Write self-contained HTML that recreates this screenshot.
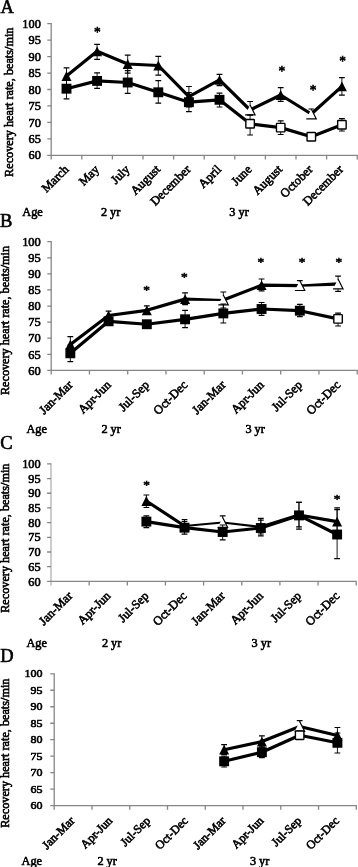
<!DOCTYPE html>
<html><head><meta charset="utf-8"><title>Recovery heart rate</title>
<style>html,body{margin:0;padding:0;background:#fff}svg{display:block}text{font-family:"Liberation Serif",serif;fill:#000;stroke:#000;stroke-width:.6px}</style>
</head><body>
<svg width="358" height="867" viewBox="0 0 358 867">
<rect width="358" height="867" fill="#fff"/>
<g>
<text x="0.5" y="12.7" font-size="18.5" stroke-width=".2">A</text>
<path d="M51.2 23.05V159.5" fill="none" stroke="#868686" stroke-width="1.3"/>
<path d="M47.3 155.3H357.85M47.3 23.7H51.2M47.3 40.15H51.2M47.3 56.6H51.2M47.3 73.05H51.2M47.3 89.5H51.2M47.3 105.95H51.2M47.3 122.4H51.2M47.3 138.85H51.2M81.8 155.3v4.2M112.4 155.3v4.2M143 155.3v4.2M173.6 155.3v4.2M204.2 155.3v4.2M234.8 155.3v4.2M265.4 155.3v4.2M296 155.3v4.2M326.6 155.3v4.2M357.2 155.3v4.2" fill="none" stroke="#868686" stroke-width="1.3"/>
<text x="40.8" y="27.86" font-size="12.3" text-anchor="end">100</text>
<text x="40.8" y="44.31" font-size="12.3" text-anchor="end">95</text>
<text x="40.8" y="60.76" font-size="12.3" text-anchor="end">90</text>
<text x="40.8" y="77.21" font-size="12.3" text-anchor="end">85</text>
<text x="40.8" y="93.66" font-size="12.3" text-anchor="end">80</text>
<text x="40.8" y="110.11" font-size="12.3" text-anchor="end">75</text>
<text x="40.8" y="126.56" font-size="12.3" text-anchor="end">70</text>
<text x="40.8" y="143.01" font-size="12.3" text-anchor="end">65</text>
<text x="40.8" y="159.46" font-size="12.3" text-anchor="end">60</text>
<text transform="translate(12.6 176.9) rotate(-90)" font-size="12.45" textLength="149.3" lengthAdjust="spacingAndGlyphs">Recovery heart rate, beats/min</text>
<text transform="translate(69.4 170.1) rotate(-45)" font-size="12.45" text-anchor="end">March</text>
<text transform="translate(99.9 170.1) rotate(-45)" font-size="12.45" text-anchor="end">May</text>
<text transform="translate(130.4 170.1) rotate(-45)" font-size="12.45" text-anchor="end">July</text>
<text transform="translate(160.9 170.1) rotate(-45)" font-size="12.45" text-anchor="end">August</text>
<text transform="translate(191.4 170.1) rotate(-45)" font-size="12.45" text-anchor="end">December</text>
<text transform="translate(221.9 170.1) rotate(-45)" font-size="12.45" text-anchor="end">April</text>
<text transform="translate(252.4 170.1) rotate(-45)" font-size="12.45" text-anchor="end">June</text>
<text transform="translate(282.9 170.1) rotate(-45)" font-size="12.45" text-anchor="end">August</text>
<text transform="translate(313.4 170.1) rotate(-45)" font-size="12.45" text-anchor="end">October</text>
<text transform="translate(343.9 170.1) rotate(-45)" font-size="12.45" text-anchor="end">December</text>
<text x="22.3" y="215.8" font-size="12.3">Age</text>
<text x="100.9" y="215.8" font-size="12.3">2 yr</text>
<text x="229.3" y="215.8" font-size="12.3">3 yr</text>
<path d="M66.5 67.8V85M97.1 44.3V59.4M127.7 55.1V73.2M158.3 56.3V75.2M188.9 86.5V107M219.5 74.3V85.7M250.1 101.5V114.9M280.7 87.6V101.3M311.3 109V118.3M341.9 77.7V95.2" fill="none" stroke="#000" stroke-width="0.9"/>
<path d="M63.6 67.8h5.8M63.6 85h5.8M94.2 44.3h5.8M94.2 59.4h5.8M124.8 55.1h5.8M124.8 73.2h5.8M155.4 56.3h5.8M155.4 75.2h5.8M186 86.5h5.8M186 107h5.8M216.6 74.3h5.8M216.6 85.7h5.8M247.2 101.5h5.8M247.2 114.9h5.8M277.8 87.6h5.8M277.8 101.3h5.8M308.4 109h5.8M308.4 118.3h5.8M339 77.7h5.8M339 95.2h5.8" fill="none" stroke="#000" stroke-width="1.2"/>
<polyline points="66.5,76 97.1,51.3 127.7,64 158.3,65.5 188.9,96.7 219.5,79.9 250.1,110 280.7,95 311.3,114 341.9,86.4" fill="none" stroke="#000" stroke-width="3.2" stroke-linejoin="round" stroke-linecap="round"/>
<polygon points="66.5,71.1 71.5,80.9 61.5,80.9" fill="#000"/>
<polygon points="97.1,46.4 102.1,56.2 92.1,56.2" fill="#000"/>
<polygon points="127.7,59.1 132.7,68.9 122.7,68.9" fill="#000"/>
<polygon points="158.3,60.6 163.3,70.4 153.3,70.4" fill="#000"/>
<polygon points="188.9,91.8 193.9,101.6 183.9,101.6" fill="#000"/>
<polygon points="219.5,75 224.5,84.8 214.5,84.8" fill="#000"/>
<polygon points="250.1,105.1 255.1,114.9 245.1,114.9" fill="#fff"/>
<path d="M250.1 105.1L255.1 114.9H245.1" fill="none" stroke="#000" stroke-width="1.15"/>
<polygon points="280.7,90.1 285.7,99.9 275.7,99.9" fill="#000"/>
<polygon points="311.3,109.1 316.3,118.9 306.3,118.9" fill="#fff"/>
<path d="M311.3 109.1L316.3 118.9H306.3" fill="none" stroke="#000" stroke-width="1.15"/>
<polygon points="341.9,81.5 346.9,91.3 336.9,91.3" fill="#000"/>
<path d="M66.5 79V98.8M97.1 72.8V88.4M127.7 70.7V93.4M158.3 80.6V103.2M188.9 92.7V111.7M219.5 93.2V107M250.1 114.9V135M280.7 120.8V134.5M311.3 134V139.6M341.9 118.7V131" fill="none" stroke="#000" stroke-width="0.9"/>
<path d="M63.6 79h5.8M63.6 98.8h5.8M94.2 72.8h5.8M94.2 88.4h5.8M124.8 70.7h5.8M124.8 93.4h5.8M155.4 80.6h5.8M155.4 103.2h5.8M186 92.7h5.8M186 111.7h5.8M216.6 93.2h5.8M216.6 107h5.8M247.2 114.9h5.8M247.2 135h5.8M277.8 120.8h5.8M277.8 134.5h5.8M308.4 134h5.8M308.4 139.6h5.8M339 118.7h5.8M339 131h5.8" fill="none" stroke="#000" stroke-width="1.2"/>
<polyline points="66.5,88.7 97.1,80.9 127.7,82.5 158.3,92.3 188.9,102.2 219.5,99.8 250.1,123.8 280.7,127.65 311.3,136.8 341.9,124.75" fill="none" stroke="#000" stroke-width="3.2" stroke-linejoin="round" stroke-linecap="round"/>
<rect x="61.55" y="83.75" width="9.9" height="9.9" fill="#000"/>
<rect x="92.15" y="75.95" width="9.9" height="9.9" fill="#000"/>
<rect x="122.75" y="77.55" width="9.9" height="9.9" fill="#000"/>
<rect x="153.35" y="87.35" width="9.9" height="9.9" fill="#000"/>
<rect x="183.95" y="97.25" width="9.9" height="9.9" fill="#000"/>
<rect x="214.55" y="94.85" width="9.9" height="9.9" fill="#000"/>
<rect x="245.85" y="119.55" width="8.5" height="8.5" rx=".6" fill="#fff" stroke="#000" stroke-width="1.4"/>
<rect x="276.45" y="123.4" width="8.5" height="8.5" rx=".6" fill="#fff" stroke="#000" stroke-width="1.4"/>
<rect x="307.05" y="132.55" width="8.5" height="8.5" rx=".6" fill="#fff" stroke="#000" stroke-width="1.4"/>
<rect x="337.65" y="120.5" width="8.5" height="8.5" rx=".6" fill="#fff" stroke="#000" stroke-width="1.4"/>
<text transform="translate(97.3 31.4) scale(1 1.05)" x="0" y="5.67" font-size="13.4" text-anchor="middle" stroke-width=".45">*</text>
<text transform="translate(281.8 69.7) scale(1 1.05)" x="0" y="5.67" font-size="13.4" text-anchor="middle" stroke-width=".45">*</text>
<text transform="translate(313.1 88.9) scale(1 1.05)" x="0" y="5.67" font-size="13.4" text-anchor="middle" stroke-width=".45">*</text>
<text transform="translate(342.5 59.8) scale(1 1.05)" x="0" y="5.67" font-size="13.4" text-anchor="middle" stroke-width=".45">*</text>
</g>
<g>
<text x="0" y="227" font-size="18.5" stroke-width=".2">B</text>
<path d="M51.2 241.05V374.6" fill="none" stroke="#868686" stroke-width="1.3"/>
<path d="M47.3 370.4H357.85M47.3 241.7H51.2M47.3 257.79H51.2M47.3 273.88H51.2M47.3 289.96H51.2M47.3 306.05H51.2M47.3 322.14H51.2M47.3 338.22H51.2M47.3 354.31H51.2M89.45 370.4v4.2M127.7 370.4v4.2M165.95 370.4v4.2M204.2 370.4v4.2M242.45 370.4v4.2M280.7 370.4v4.2M318.95 370.4v4.2M357.2 370.4v4.2" fill="none" stroke="#868686" stroke-width="1.3"/>
<text x="40.8" y="245.91" font-size="12.45" text-anchor="end">100</text>
<text x="40.8" y="262" font-size="12.45" text-anchor="end">95</text>
<text x="40.8" y="278.08" font-size="12.45" text-anchor="end">90</text>
<text x="40.8" y="294.17" font-size="12.45" text-anchor="end">85</text>
<text x="40.8" y="310.26" font-size="12.45" text-anchor="end">80</text>
<text x="40.8" y="326.35" font-size="12.45" text-anchor="end">75</text>
<text x="40.8" y="342.43" font-size="12.45" text-anchor="end">70</text>
<text x="40.8" y="358.52" font-size="12.45" text-anchor="end">65</text>
<text x="40.8" y="374.61" font-size="12.45" text-anchor="end">60</text>
<text transform="translate(8.8 395.1) rotate(-90)" font-size="12.45" textLength="149.2" lengthAdjust="spacingAndGlyphs">Recovery heart rate, beats/min</text>
<text transform="translate(73.33 385.6) rotate(-45)" font-size="12.45" text-anchor="end">Jan-Mar</text>
<text transform="translate(111.58 385.6) rotate(-45)" font-size="12.45" text-anchor="end">Apr-Jun</text>
<text transform="translate(149.82 385.6) rotate(-45)" font-size="12.45" text-anchor="end">Jul-Sep</text>
<text transform="translate(188.07 385.6) rotate(-45)" font-size="12.45" text-anchor="end">Oct-Dec</text>
<text transform="translate(226.32 385.6) rotate(-45)" font-size="12.45" text-anchor="end">Jan-Mar</text>
<text transform="translate(264.57 385.6) rotate(-45)" font-size="12.45" text-anchor="end">Apr-Jun</text>
<text transform="translate(302.82 385.6) rotate(-45)" font-size="12.45" text-anchor="end">Jul-Sep</text>
<text transform="translate(341.07 385.6) rotate(-45)" font-size="12.45" text-anchor="end">Oct-Dec</text>
<text x="26.4" y="432.9" font-size="12.3">Age</text>
<text x="101.4" y="432.9" font-size="12.3">2 yr</text>
<text x="245.4" y="432.9" font-size="12.3">3 yr</text>
<path d="M70.33 336.6V354M108.58 311.1V319.5M146.82 305.8V314.5M185.07 292.8V304.7M223.32 292V308M261.57 279V290.9M299.82 280.6V290.4M338.07 276.1V291.3" fill="none" stroke="#000" stroke-width="0.9"/>
<path d="M67.42 336.6h5.8M67.42 354h5.8M105.67 311.1h5.8M105.67 319.5h5.8M143.92 305.8h5.8M143.92 314.5h5.8M182.17 292.8h5.8M182.17 304.7h5.8M220.42 292h5.8M220.42 308h5.8M258.68 279h5.8M258.68 290.9h5.8M296.93 280.6h5.8M296.93 290.4h5.8M335.18 276.1h5.8M335.18 291.3h5.8" fill="none" stroke="#000" stroke-width="1.2"/>
<polygon points="185.04,300.75 223.3,301.1 223.35,298.9 185.11,297.45" fill="#000"/>
<polyline points="70.33,344.6 108.58,315.5 146.82,310.3 185.07,299.1" fill="none" stroke="#000" stroke-width="3.2" stroke-linejoin="round" stroke-linecap="round"/>
<polygon points="299.87,286.7 338.15,285.8 338,282.2 299.78,284.5" fill="#000"/>
<polyline points="223.32,300 261.57,285.2 299.82,285.6" fill="none" stroke="#000" stroke-width="3.2" stroke-linejoin="round" stroke-linecap="round"/>
<polygon points="70.33,339.7 75.33,349.5 65.33,349.5" fill="#000"/>
<polygon points="108.58,310.6 113.58,320.4 103.58,320.4" fill="#000"/>
<polygon points="146.82,305.4 151.82,315.2 141.82,315.2" fill="#000"/>
<polygon points="185.07,294.2 190.07,304 180.07,304" fill="#000"/>
<polygon points="223.32,295.1 228.32,304.9 218.32,304.9" fill="#fff"/>
<path d="M223.32 295.1L228.32 304.9H218.32" fill="none" stroke="#000" stroke-width="1.15"/>
<polygon points="261.57,280.3 266.57,290.1 256.57,290.1" fill="#000"/>
<polygon points="299.82,280.7 304.82,290.5 294.82,290.5" fill="#fff"/>
<path d="M299.82 280.7L304.82 290.5H294.82" fill="none" stroke="#000" stroke-width="1.15"/>
<polygon points="338.07,279.1 343.07,288.9 333.07,288.9" fill="#fff"/>
<path d="M338.07 279.1L343.07 288.9H333.07" fill="none" stroke="#000" stroke-width="1.15"/>
<path d="M70.33 345V361.6M108.58 318V325M146.82 321V327.5M185.07 310.3V327.7M223.32 304V323M261.57 302.5V315.3M299.82 304.3V316.6M338.07 313.2V326" fill="none" stroke="#000" stroke-width="0.9"/>
<path d="M67.42 345h5.8M67.42 361.6h5.8M105.67 318h5.8M105.67 325h5.8M143.92 321h5.8M143.92 327.5h5.8M182.17 310.3h5.8M182.17 327.7h5.8M220.42 304h5.8M220.42 323h5.8M258.68 302.5h5.8M258.68 315.3h5.8M296.93 304.3h5.8M296.93 316.6h5.8M335.18 313.2h5.8M335.18 326h5.8" fill="none" stroke="#000" stroke-width="1.2"/>
<polyline points="70.33,353.3 108.58,321.3 146.82,324.25 185.07,319.3 223.32,313.4 261.57,309 299.82,310.7 338.07,318.9" fill="none" stroke="#000" stroke-width="3.2" stroke-linejoin="round" stroke-linecap="round"/>
<rect x="65.38" y="348.35" width="9.9" height="9.9" fill="#000"/>
<rect x="103.62" y="316.35" width="9.9" height="9.9" fill="#000"/>
<rect x="141.88" y="319.3" width="9.9" height="9.9" fill="#000"/>
<rect x="180.12" y="314.35" width="9.9" height="9.9" fill="#000"/>
<rect x="218.38" y="308.45" width="9.9" height="9.9" fill="#000"/>
<rect x="256.62" y="304.05" width="9.9" height="9.9" fill="#000"/>
<rect x="294.88" y="305.75" width="9.9" height="9.9" fill="#000"/>
<rect x="333.82" y="314.65" width="8.5" height="8.5" rx=".6" fill="#fff" stroke="#000" stroke-width="1.4"/>
<text transform="translate(146.5 288.8) scale(1 0.99)" x="0" y="5.67" font-size="13.4" text-anchor="middle" stroke-width=".45">*</text>
<text transform="translate(184.3 274.9) scale(1 0.99)" x="0" y="5.67" font-size="13.4" text-anchor="middle" stroke-width=".45">*</text>
<text transform="translate(260.9 260.4) scale(1 0.99)" x="0" y="5.67" font-size="13.4" text-anchor="middle" stroke-width=".45">*</text>
<text transform="translate(302 260.4) scale(1 0.99)" x="0" y="5.67" font-size="13.4" text-anchor="middle" stroke-width=".45">*</text>
<text transform="translate(338.8 260.4) scale(1 0.99)" x="0" y="5.67" font-size="13.4" text-anchor="middle" stroke-width=".45">*</text>
</g>
<g>
<text x="0.3" y="448.6" font-size="18.5" stroke-width=".2">C</text>
<path d="M51 463.25V585.6" fill="none" stroke="#b0b0b0" stroke-width="1.3"/>
<path d="M47.1 581.4H356.85M47.1 463.9H51M47.1 478.59H51M47.1 493.27H51M47.1 507.96H51M47.1 522.65H51M47.1 537.34H51M47.1 552.02H51M47.1 566.71H51M89.15 581.4v4.2M127.3 581.4v4.2M165.45 581.4v4.2M203.6 581.4v4.2M241.75 581.4v4.2M279.9 581.4v4.2M318.05 581.4v4.2M356.2 581.4v4.2" fill="none" stroke="#868686" stroke-width="1.3"/>
<text x="40.6" y="468.06" font-size="12.3" text-anchor="end">100</text>
<text x="40.6" y="482.74" font-size="12.3" text-anchor="end">95</text>
<text x="40.6" y="497.43" font-size="12.3" text-anchor="end">90</text>
<text x="40.6" y="512.12" font-size="12.3" text-anchor="end">85</text>
<text x="40.6" y="526.81" font-size="12.3" text-anchor="end">80</text>
<text x="40.6" y="541.49" font-size="12.3" text-anchor="end">75</text>
<text x="40.6" y="556.18" font-size="12.3" text-anchor="end">70</text>
<text x="40.6" y="570.87" font-size="12.3" text-anchor="end">65</text>
<text x="40.6" y="585.56" font-size="12.3" text-anchor="end">60</text>
<text transform="translate(9 612.8) rotate(-90)" font-size="12.45" textLength="149.2" lengthAdjust="spacingAndGlyphs">Recovery heart rate, beats/min</text>
<text transform="translate(73.08 596.6) rotate(-45)" font-size="12.45" text-anchor="end">Jan-Mar</text>
<text transform="translate(111.22 596.6) rotate(-45)" font-size="12.45" text-anchor="end">Apr-Jun</text>
<text transform="translate(149.38 596.6) rotate(-45)" font-size="12.45" text-anchor="end">Jul-Sep</text>
<text transform="translate(187.53 596.6) rotate(-45)" font-size="12.45" text-anchor="end">Oct-Dec</text>
<text transform="translate(225.67 596.6) rotate(-45)" font-size="12.45" text-anchor="end">Jan-Mar</text>
<text transform="translate(263.82 596.6) rotate(-45)" font-size="12.45" text-anchor="end">Apr-Jun</text>
<text transform="translate(301.98 596.6) rotate(-45)" font-size="12.45" text-anchor="end">Jul-Sep</text>
<text transform="translate(340.12 596.6) rotate(-45)" font-size="12.45" text-anchor="end">Oct-Dec</text>
<text x="26.4" y="647.1" font-size="12.3">Age</text>
<text x="101.9" y="647.1" font-size="12.3">2 yr</text>
<text x="251.6" y="647.1" font-size="12.3">3 yr</text>
<path d="M146.38 495V507.5M184.53 519.6V531M222.67 515.8V529M260.82 518.4V534M298.98 502.3V526.9M337.12 507.9V535" fill="none" stroke="#000" stroke-width="0.9"/>
<path d="M143.47 495h5.8M143.47 507.5h5.8M181.62 519.6h5.8M181.62 531h5.8M219.77 515.8h5.8M219.77 529h5.8M257.93 518.4h5.8M257.93 534h5.8M296.08 502.3h5.8M296.08 526.9h5.8M334.23 507.9h5.8M334.23 535h5.8" fill="none" stroke="#000" stroke-width="1.2"/>
<polyline points="146.38,501 184.53,526" fill="none" stroke="#000" stroke-width="3.2" stroke-linejoin="round" stroke-linecap="round"/>
<polyline points="184.53,526 222.67,522.5 260.82,527" fill="none" stroke="#000" stroke-width="2.2" stroke-linejoin="round" stroke-linecap="round"/>
<polyline points="260.82,527 298.98,515 337.12,521.6" fill="none" stroke="#000" stroke-width="3.2" stroke-linejoin="round" stroke-linecap="round"/>
<polygon points="146.38,496.1 151.38,505.9 141.38,505.9" fill="#000"/>
<polygon points="184.53,521.1 189.53,530.9 179.53,530.9" fill="#000"/>
<polygon points="222.67,517.6 227.67,527.4 217.67,527.4" fill="#fff"/>
<path d="M222.67 517.6L227.67 527.4H217.67" fill="none" stroke="#000" stroke-width="1.15"/>
<polygon points="260.82,522.1 265.82,531.9 255.82,531.9" fill="#000"/>
<polygon points="298.98,510.1 303.98,519.9 293.98,519.9" fill="#000"/>
<polygon points="337.12,516.7 342.12,526.5 332.12,526.5" fill="#000"/>
<path d="M146.38 515.8V527.6M184.53 521.5V534.1M222.67 525V539.9M260.82 520.2V535.9M298.98 502.3V529.2M337.12 509.7V558.7" fill="none" stroke="#000" stroke-width="0.9"/>
<path d="M143.47 515.8h5.8M143.47 527.6h5.8M181.62 521.5h5.8M181.62 534.1h5.8M219.77 525h5.8M219.77 539.9h5.8M257.93 520.2h5.8M257.93 535.9h5.8M296.08 502.3h5.8M296.08 529.2h5.8M334.23 509.7h5.8M334.23 558.7h5.8" fill="none" stroke="#000" stroke-width="1.2"/>
<polyline points="146.38,521.6 184.53,527.7 222.67,532 260.82,528 298.98,515.4 337.12,534.5" fill="none" stroke="#000" stroke-width="3.2" stroke-linejoin="round" stroke-linecap="round"/>
<rect x="141.43" y="516.65" width="9.9" height="9.9" fill="#000"/>
<rect x="179.58" y="522.75" width="9.9" height="9.9" fill="#000"/>
<rect x="217.72" y="527.05" width="9.9" height="9.9" fill="#000"/>
<rect x="255.88" y="523.05" width="9.9" height="9.9" fill="#000"/>
<rect x="294.03" y="510.45" width="9.9" height="9.9" fill="#000"/>
<rect x="332.18" y="529.55" width="9.9" height="9.9" fill="#000"/>
<text transform="translate(146.6 483.7) scale(1 0.92)" x="0" y="5.67" font-size="13.4" text-anchor="middle" stroke-width=".45">*</text>
<text transform="translate(337.1 497.3) scale(1 0.92)" x="0" y="5.67" font-size="13.4" text-anchor="middle" stroke-width=".45">*</text>
</g>
<g>
<text x="0.3" y="662" font-size="18.5" stroke-width=".2">D</text>
<path d="M54.2 673.15V809.8" fill="none" stroke="#868686" stroke-width="1.3"/>
<path d="M50.3 805.6H356.95M50.3 673.8H54.2M50.3 690.27H54.2M50.3 706.75H54.2M50.3 723.23H54.2M50.3 739.7H54.2M50.3 756.17H54.2M50.3 772.65H54.2M50.3 789.12H54.2M91.96 805.6v4.2M129.73 805.6v4.2M167.49 805.6v4.2M205.25 805.6v4.2M243.01 805.6v4.2M280.78 805.6v4.2M318.54 805.6v4.2M356.3 805.6v4.2" fill="none" stroke="#868686" stroke-width="1.3"/>
<text x="42.6" y="677.2" font-size="11" font-family="Liberation Sans, sans-serif" stroke-width=".45" text-anchor="end" textLength="18" lengthAdjust="spacingAndGlyphs">100</text>
<text x="42.6" y="693.67" font-size="11" font-family="Liberation Sans, sans-serif" stroke-width=".45" text-anchor="end" textLength="12" lengthAdjust="spacingAndGlyphs">95</text>
<text x="42.6" y="710.15" font-size="11" font-family="Liberation Sans, sans-serif" stroke-width=".45" text-anchor="end" textLength="12" lengthAdjust="spacingAndGlyphs">90</text>
<text x="42.6" y="726.62" font-size="11" font-family="Liberation Sans, sans-serif" stroke-width=".45" text-anchor="end" textLength="12" lengthAdjust="spacingAndGlyphs">85</text>
<text x="42.6" y="743.1" font-size="11" font-family="Liberation Sans, sans-serif" stroke-width=".45" text-anchor="end" textLength="12" lengthAdjust="spacingAndGlyphs">80</text>
<text x="42.6" y="759.57" font-size="11" font-family="Liberation Sans, sans-serif" stroke-width=".45" text-anchor="end" textLength="12" lengthAdjust="spacingAndGlyphs">75</text>
<text x="42.6" y="776.05" font-size="11" font-family="Liberation Sans, sans-serif" stroke-width=".45" text-anchor="end" textLength="12" lengthAdjust="spacingAndGlyphs">70</text>
<text x="42.6" y="792.52" font-size="11" font-family="Liberation Sans, sans-serif" stroke-width=".45" text-anchor="end" textLength="12" lengthAdjust="spacingAndGlyphs">65</text>
<text x="42.6" y="809" font-size="11" font-family="Liberation Sans, sans-serif" stroke-width=".45" text-anchor="end" textLength="12" lengthAdjust="spacingAndGlyphs">60</text>
<text transform="translate(8.9 827.8) rotate(-90)" font-size="12.45" textLength="149.2" lengthAdjust="spacingAndGlyphs">Recovery heart rate, beats/min</text>
<text transform="translate(75.38 821.4) rotate(-45)" font-size="12.1" text-anchor="end">Jan-Mar</text>
<text transform="translate(113.14 821.4) rotate(-45)" font-size="12.1" text-anchor="end">Apr-Jun</text>
<text transform="translate(150.91 821.4) rotate(-45)" font-size="12.1" text-anchor="end">Jul-Sep</text>
<text transform="translate(188.67 821.4) rotate(-45)" font-size="12.1" text-anchor="end">Oct-Dec</text>
<text transform="translate(226.43 821.4) rotate(-45)" font-size="12.1" text-anchor="end">Jan-Mar</text>
<text transform="translate(264.19 821.4) rotate(-45)" font-size="12.1" text-anchor="end">Apr-Jun</text>
<text transform="translate(301.96 821.4) rotate(-45)" font-size="12.1" text-anchor="end">Jul-Sep</text>
<text transform="translate(339.72 821.4) rotate(-45)" font-size="12.1" text-anchor="end">Oct-Dec</text>
<text x="21.5" y="864.5" font-size="12.3">Age</text>
<text x="97.4" y="864.5" font-size="12.3">2 yr</text>
<text x="249.9" y="864.5" font-size="12.3">3 yr</text>
<path d="M224.13 744.7V754.5M261.89 735.8V747M299.66 720.6V732M337.42 727.5V743" fill="none" stroke="#000" stroke-width="0.9"/>
<path d="M221.23 744.7h5.8M221.23 754.5h5.8M258.99 735.8h5.8M258.99 747h5.8M296.76 720.6h5.8M296.76 732h5.8M334.52 727.5h5.8M334.52 743h5.8" fill="none" stroke="#000" stroke-width="1.2"/>
<polyline points="224.13,749.7 261.89,741.6 299.66,726.5 337.42,735.5" fill="none" stroke="#000" stroke-width="3.2" stroke-linejoin="round" stroke-linecap="round"/>
<polygon points="224.13,744.8 229.13,754.6 219.13,754.6" fill="#000"/>
<polygon points="261.89,736.7 266.89,746.5 256.89,746.5" fill="#000"/>
<polygon points="299.66,721.6 304.66,731.4 294.66,731.4" fill="#fff"/>
<path d="M299.66 721.6L304.66 731.4H294.66" fill="none" stroke="#000" stroke-width="1.15"/>
<polygon points="337.42,730.6 342.42,740.4 332.42,740.4" fill="#000"/>
<path d="M224.13 756V767M261.89 747V757.7M299.66 731V739.5M337.42 733V753" fill="none" stroke="#000" stroke-width="0.9"/>
<path d="M221.23 756h5.8M221.23 767h5.8M258.99 747h5.8M258.99 757.7h5.8M296.76 731h5.8M296.76 739.5h5.8M334.52 733h5.8M334.52 753h5.8" fill="none" stroke="#000" stroke-width="1.2"/>
<polyline points="224.13,761.3 261.89,752.2 299.66,735.2 337.42,742.8" fill="none" stroke="#000" stroke-width="3.2" stroke-linejoin="round" stroke-linecap="round"/>
<rect x="219.18" y="756.35" width="9.9" height="9.9" fill="#000"/>
<rect x="256.94" y="747.25" width="9.9" height="9.9" fill="#000"/>
<rect x="295.41" y="730.95" width="8.5" height="8.5" rx=".6" fill="#fff" stroke="#000" stroke-width="1.4"/>
<rect x="332.47" y="737.85" width="9.9" height="9.9" fill="#000"/>
</g>
</svg>
</body></html>
